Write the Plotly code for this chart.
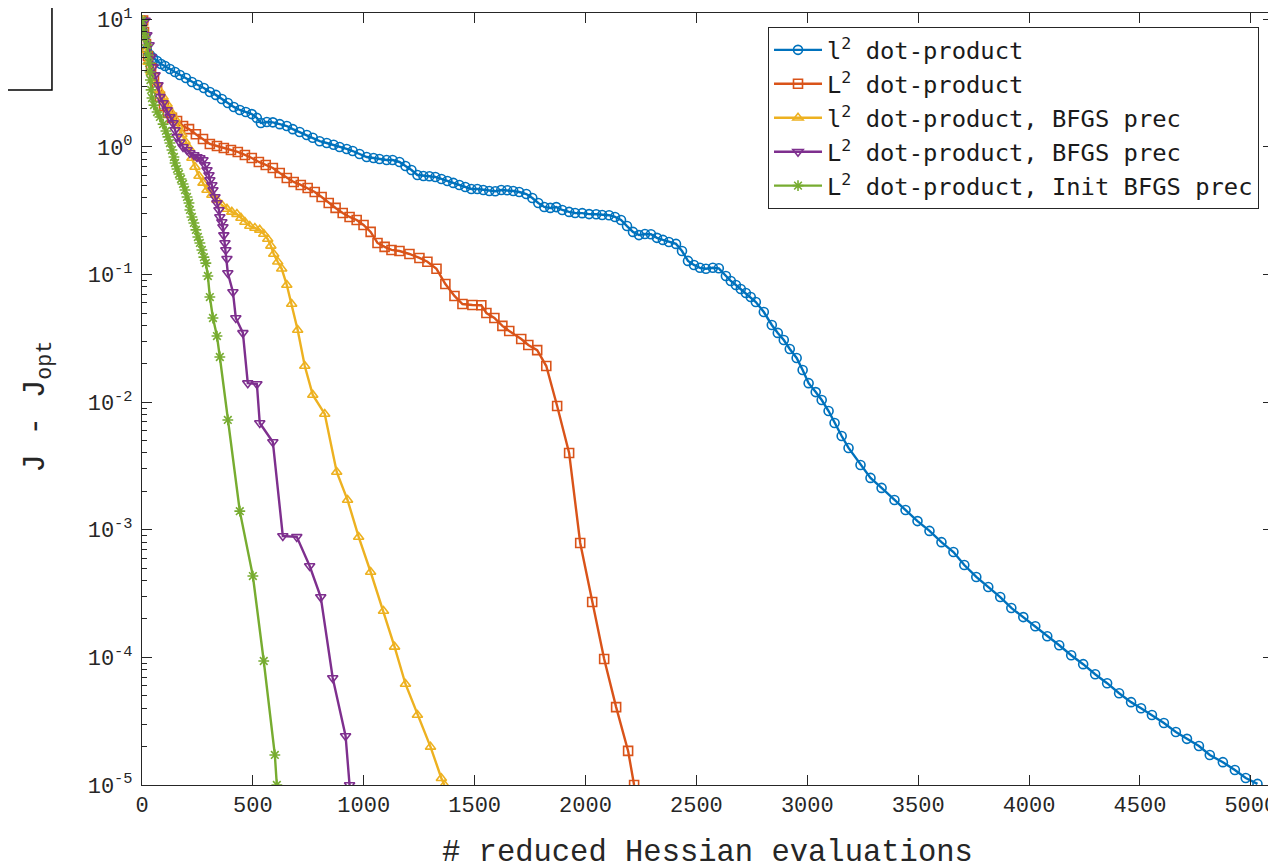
import plotly.graph_objects as go

# ---------------- data ----------------
blue_x = [5, 14, 22, 36, 50, 68, 86, 104, 126, 149, 171, 198, 225, 252, 279, 306, 333, 360, 387, 414,
          441, 468, 495, 518, 536, 563, 590, 621, 653, 680, 711, 743, 770, 801, 833, 864, 891, 923, 950, 981,
          1013, 1044, 1071, 1103, 1130, 1161, 1188, 1215, 1242, 1269, 1296, 1323, 1350, 1377, 1404, 1431, 1458, 1485, 1512, 1539,
          1566, 1593, 1620, 1647, 1674, 1701, 1733, 1760, 1787, 1814, 1841, 1868, 1895, 1926, 1953, 1985, 2016, 2048, 2075, 2106,
          2133, 2160, 2187, 2214, 2241, 2268, 2295, 2322, 2349, 2376, 2408, 2435, 2462, 2489, 2516, 2543, 2574, 2601, 2633, 2655,
          2678, 2700, 2723, 2745, 2768, 2804, 2840, 2867, 2894, 2921, 2952, 2979, 3006, 3038, 3065, 3096, 3123, 3155, 3186, 3240,
          3285, 3335, 3393, 3443, 3497, 3551, 3605, 3659, 3708, 3762, 3816, 3870, 3920, 3974, 4028, 4082, 4136, 4190, 4244, 4298,
          4352, 4406, 4460, 4505, 4554, 4608, 4662, 4712, 4766, 4815, 4874, 4928, 4977, 5030]
blue_y = [9.8, 7.41, 5.75, 5.26, 4.98, 4.72, 4.47, 4.31, 4.09, 3.87, 3.67, 3.47, 3.23, 3.06, 2.90, 2.70, 2.56, 2.38, 2.21, 2.06,
          1.95, 1.88, 1.81, 1.69, 1.54, 1.57, 1.56, 1.51, 1.46, 1.38, 1.31, 1.24, 1.18, 1.11, 1.075, 1.04, 1.0, 0.965, 0.93, 0.881,
          0.835, 0.820, 0.805, 0.791, 0.79, 0.763, 0.710, 0.660, 0.603, 0.593, 0.59, 0.582, 0.561, 0.542, 0.523, 0.504, 0.486, 0.469, 0.468, 0.460,
          0.452, 0.45, 0.46, 0.458, 0.452, 0.444, 0.428, 0.398, 0.364, 0.339, 0.333, 0.338, 0.321, 0.310, 0.304, 0.303, 0.298, 0.297, 0.293, 0.292,
          0.283, 0.268, 0.240, 0.216, 0.204, 0.208, 0.207, 0.194, 0.187, 0.180, 0.174, 0.153, 0.128, 0.119, 0.113, 0.111, 0.113, 0.112, 0.0975, 0.0891,
          0.0829, 0.0771, 0.0718, 0.0668, 0.0610, 0.0509, 0.0403, 0.0349, 0.0307, 0.0261, 0.0222, 0.0179, 0.0141, 0.0120, 0.0104, 0.00853, 0.00687, 0.00543, 0.00438, 0.00322,
          0.00255, 0.00213, 0.00171, 0.00143, 0.00117, 9.8e-4, 8.0e-4, 6.7e-4, 5.3e-4, 4.27e-4, 3.56e-4, 2.97e-4, 2.44e-4, 2.07e-4, 1.755e-4, 1.466e-4, 1.246e-4, 1.04e-4, 8.85e-5, 7.38e-5,
          6.28e-5, 5.24e-5, 4.46e-5, 4.0e-5, 3.54e-5, 3.06e-5, 2.60e-5, 2.30e-5, 2.02e-5, 1.72e-5, 1.51e-5, 1.31e-5, 1.135e-5, 1.02e-5]

orange_x = [5, 9, 18, 27, 41, 54, 68, 81, 99, 117, 135, 158, 185, 212, 243, 275, 306, 338, 369, 401,
            432, 464, 495, 527, 558, 590, 621, 653, 684, 716, 747, 779, 810, 842, 873, 905, 936, 968, 999, 1031,
            1062, 1094, 1125, 1161, 1206, 1251, 1287, 1328, 1368, 1409, 1445, 1490, 1530, 1553, 1589, 1625, 1656, 1710, 1742, 1782,
            1823, 1872, 1926, 1976, 2030, 2084, 2138, 2192, 2219]
orange_y = [9.8, 7.97, 6.41, 5.17, 4.16, 3.47, 2.90, 2.47, 2.10, 1.85, 1.69, 1.60, 1.46, 1.38, 1.26, 1.155, 1.056, 1.018, 0.982, 0.947,
            0.914, 0.866, 0.820, 0.763, 0.723, 0.685, 0.625, 0.572, 0.532, 0.504, 0.477, 0.444, 0.406, 0.364, 0.333, 0.304, 0.283, 0.268, 0.245, 0.216,
            0.177, 0.165, 0.156, 0.153, 0.145, 0.135, 0.126, 0.111, 0.0844, 0.0680, 0.0588, 0.0578, 0.0575, 0.0500, 0.0457, 0.0396, 0.0361, 0.0313, 0.0281, 0.0256,
            0.0192, 0.00934, 0.00400, 7.88e-4, 2.72e-4, 9.71e-5, 4.08e-5, 1.85e-5, 1.0e-5]

yellow_x = [5, 9, 18, 27, 41, 59, 77, 95, 113, 131, 149, 162, 180, 194, 212, 225, 239, 257, 275, 293,
            315, 338, 360, 383, 405, 428, 446, 464, 486, 509, 531, 549, 567, 581, 594, 612, 630, 653, 675, 702,
            734, 770, 824, 878, 927, 977, 1031, 1089, 1139, 1188, 1242, 1301, 1350, 1364]
yellow_y = [9.8, 7.55, 5.75, 4.64, 3.87, 3.23, 2.80, 2.47, 2.17, 1.88, 1.66, 1.46, 1.26, 1.11, 0.982, 0.820, 0.697, 0.593, 0.523, 0.460,
            0.421, 0.384, 0.351, 0.327, 0.310, 0.298, 0.278, 0.258, 0.240, 0.232, 0.224, 0.208, 0.190, 0.168, 0.145, 0.126, 0.111, 0.0829, 0.0588, 0.0368,
            0.0192, 0.0114, 0.00809, 0.00284, 0.00171, 8.79e-4, 4.67e-4, 2.31e-4, 1.21e-4, 6.19e-5, 3.54e-5, 1.99e-5, 1.13e-5, 1.0e-5]

purple_x = [14, 22, 32, 41, 50, 59, 72, 81, 95, 113, 126, 140, 149, 158, 171, 185, 203, 216, 234, 248,
            261, 275, 284, 293, 302, 306, 315, 320, 329, 338, 347, 351, 360, 365, 369, 374, 378, 383, 387, 410,
            423, 455, 477, 518, 531, 590, 635, 698, 756, 806, 860, 918, 936]
purple_y = [9.8, 7.55, 6.30, 5.08, 4.24, 3.67, 3.06, 2.47, 2.21, 1.95, 1.72, 1.54, 1.36, 1.20, 1.09, 1.0, 0.947, 0.897, 0.866, 0.835,
            0.820, 0.791, 0.723, 0.660, 0.603, 0.551, 0.504, 0.460, 0.406, 0.364, 0.321, 0.283, 0.258, 0.236, 0.204, 0.177, 0.156, 0.133, 0.103, 0.0731,
            0.0457, 0.0349, 0.0141, 0.0139, 0.00687, 0.00488, 8.94e-4, 8.8e-4, 5.20e-4, 2.97e-4, 6.90e-5, 2.42e-5, 1.0e-5]

green_x = [0, 5, 14, 23, 27, 32, 36, 38, 41, 45, 54, 68, 81, 95, 108, 117, 126, 135, 144, 149,
           158, 167, 176, 185, 194, 203, 212, 216, 225, 234, 243, 252, 261, 270, 279, 288, 297, 306, 320, 338,
           351, 387, 441, 500, 549, 599, 608]
green_y = [9.8, 8.26, 7.28, 6.30, 5.26, 4.55, 3.87, 3.35, 2.80, 2.42, 2.13, 1.88, 1.72, 1.51, 1.335, 1.20, 1.075, 0.947, 0.835, 0.749,
           0.673, 0.614, 0.561, 0.513, 0.460, 0.406, 0.364, 0.321, 0.283, 0.254, 0.224, 0.197, 0.177, 0.156, 0.137, 0.123, 0.0975, 0.0667, 0.0457, 0.0330,
           0.0226, 0.00726, 0.00140, 4.34e-4, 9.37e-5, 1.72e-5, 1.0e-5]

names = ["l<sup>2</sup> dot-product",
         "L<sup>2</sup> dot-product",
         "l<sup>2</sup> dot-product, BFGS prec",
         "L<sup>2</sup> dot-product, BFGS prec",
         "L<sup>2</sup> dot-product, Init BFGS prec"]

x_title = "# reduced Hessian evaluations"
y_title = "J - J<sub>opt</sub>"
x_ticks = [0, 500, 1000, 1500, 2000, 2500, 3000, 3500, 4000, 4500, 5000]
y_ticks = [1e-5, 1e-4, 1e-3, 1e-2, 1e-1, 1e0, 1e1]
y_ticktext = ["10<sup>-5</sup>", "10<sup>-4</sup>", "10<sup>-3</sup>", "10<sup>-2</sup>",
              "10<sup>-1</sup>", "10<sup>0</sup>", "10<sup>1</sup>"]
y_minor = [m * d for d in y_ticks[:-1] for m in range(2, 10)]

# ---------------- styling ----------------
colors = ["#0072BD", "#D95319", "#EDB120", "#7E2F8E", "#77AC30"]
symbols = ["circle-open", "square-open", "triangle-up-open", "triangle-down-open", "asterisk-open"]
axis_col = "#262626"
mono = "Liberation Mono"

series = [(blue_x, blue_y), (orange_x, orange_y), (yellow_x, yellow_y),
          (purple_x, purple_y), (green_x, green_y)]

fig = go.Figure()
for i, ((xs, ys), nm, c, s) in enumerate(zip(series, names, colors, symbols)):
    fig.add_trace(go.Scatter(
        x=xs, y=ys, name=nm, mode="lines+markers", legendgroup=f"g{i}",
        line=dict(color=c, width=2.4),
        marker=dict(symbol=s, size=9, color=c, line=dict(color=c, width=1.6)),
    ))

# the page body adds an 8 px offset, so the figure is 8 px smaller and margins shifted
fig.update_layout(
    width=1268, height=859,
    margin=dict(l=134, r=3, t=5, b=82, autoexpand=False),
    paper_bgcolor="white", plot_bgcolor="white",
    showlegend=True,
    legend=dict(
        x=0.5535, y=0.982, xanchor="left", yanchor="top",
        bgcolor="white", bordercolor=axis_col, borderwidth=1,
        font=dict(family="DejaVu Sans Mono", size=23.8, color="#1a1a1a"),
        itemwidth=48, tracegroupgap=0,
    ),
    xaxis=dict(
        range=[0, 5100], tickvals=x_ticks, ticks="inside", ticklen=10, tickwidth=1,
        tickcolor=axis_col, showline=True, linecolor=axis_col, linewidth=1,
        mirror="allticks", showgrid=False, zeroline=False, automargin=False,
        ticklabeloverflow="allow",
        tickfont=dict(family=mono, size=22, color=axis_col),
    ),
    yaxis=dict(
        type="log", range=[-5, 1.05], tickvals=y_ticks, ticktext=y_ticktext,
        ticks="inside", ticklen=10, tickwidth=1, tickcolor=axis_col,
        showline=True, linecolor=axis_col, linewidth=1, mirror="allticks",
        showgrid=False, zeroline=False, automargin=False, ticklabelstandoff=4,
        ticklabeloverflow="allow",
        minor=dict(ticks="inside", ticklen=5, tickcolor=axis_col, tickmode="array",
                   tickvals=y_minor, showgrid=False),
        tickfont=dict(family=mono, size=22, color=axis_col),
    ),
    annotations=[
        dict(text=x_title, xref="paper", yref="paper", x=0.5, y=-0.0881,
             xanchor="center", yanchor="middle", showarrow=False,
             font=dict(family=mono, size=30.5, color=axis_col)),
        dict(text=y_title, xref="paper", yref="paper", x=-0.092, y=0.49,
             xanchor="center", yanchor="middle", showarrow=False, textangle=-90,
             font=dict(family=mono, size=31, color=axis_col)),
    ],
    shapes=[dict(type="rect", xref="paper", yref="paper",
                 x0=-0.3, x1=-0.0796, y0=0.9003, y1=1.2,
                 line=dict(color="black", width=1.5), fillcolor="rgba(0,0,0,0)")],
)

fig.write_html("out.html")
